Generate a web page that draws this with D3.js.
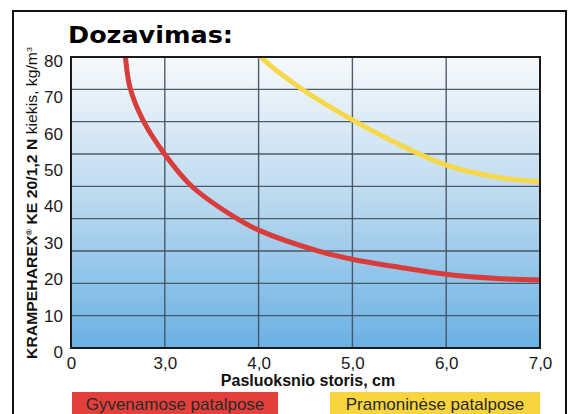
<!DOCTYPE html>
<html>
<head>
<meta charset="utf-8">
<script src="https://cdn.jsdelivr.net/npm/d3@7"></script>
<style>
  html, body { margin: 0; padding: 0; background: #fff; }
  svg { display: block; }
</style>
</head>
<body>
<svg id="chart" width="574" height="414"></svg>
<script>
// ---- data ----
const redX = [2.555, 2.58, 2.63, 2.77, 2.99, 3.29, 3.78, 4.0, 4.63, 5.0, 5.5, 6.0, 6.5, 7.0];
const redY = [88, 80, 71.5, 62.5, 53.6, 44.4, 35.4, 32.4, 26.7, 24.4, 22.2, 20.3, 19.2, 18.7];
const yellowX = [3.95, 4.02, 4.46, 5.0, 5.35, 6.0, 6.58, 7.0];
const yellowY = [82, 80, 71.2, 62.7, 57.9, 50.3, 46.8, 45.7];
const xTickValues = [2, 3, 4, 5, 6, 7];
const xTickLabels = ["0", "3,0", "4,0", "5,0", "6,0", "7,0"];
const yTickValues = [0, 10, 20, 30, 40, 50, 60, 70, 80];
const yGridValues = [8.89, 17.78, 26.67, 35.56, 44.44, 53.33, 62.22, 71.11];
const legendLabels = ["Gyvenamose patalpose", "Pramoninėse patalpose"];
const seriesColors = ["#d93d3b", "#f7d84a"];
const legendColors = ["#e3403b", "#f8d53f"];

// ---- layout ----
const svg = d3.select("#chart");
const L = 71, R = 540, T = 57, B = 348;
const x = d3.scaleLinear().domain([2, 7]).range([L, R]);
const y = d3.scaleLinear().domain([0, 80]).range([B, T]);

// outer frame
svg.append("path")
  .attr("d", `M13,420 L13,11 L566,11 L566,420`)
  .attr("fill", "none").attr("stroke", "#111").attr("stroke-width", 2);

// gradient
const defs = svg.append("defs");
const grad = defs.append("linearGradient").attr("id", "bg")
  .attr("x1", 0).attr("y1", 0).attr("x2", 0).attr("y2", 1);
grad.append("stop").attr("offset", "0%").attr("stop-color", "#f6f9fc");
grad.append("stop").attr("offset", "45%").attr("stop-color", "#c1dcf0");
grad.append("stop").attr("offset", "100%").attr("stop-color", "#6ab1e4");
defs.append("clipPath").attr("id", "clip")
  .append("rect").attr("x", L).attr("y", T).attr("width", R - L).attr("height", B - T);

svg.append("rect").attr("x", L).attr("y", T).attr("width", R - L).attr("height", B - T)
  .attr("fill", "url(#bg)");

// grid lines
const grid = svg.append("g").attr("stroke", "#3f4d5c").attr("stroke-width", 1.4).attr("stroke-opacity", 0.9);
grid.selectAll("line.h").data(yGridValues).join("line").attr("class", "h")
  .attr("x1", L).attr("x2", R).attr("y1", d => y(d)).attr("y2", d => y(d));
grid.selectAll("line.v").data(xTickValues.slice(1, -1)).join("line").attr("class", "v")
  .attr("x1", d => x(d)).attr("x2", d => x(d)).attr("y1", T).attr("y2", B);

// curves
const line = d3.line().x(d => x(d[0])).y(d => y(d[1])).curve(d3.curveCatmullRom.alpha(0.5));
const curves = svg.append("g").attr("clip-path", "url(#clip)");
curves.append("path").datum(yellowX.map((v, i) => [v, yellowY[i]]))
  .attr("d", line).attr("fill", "none").attr("stroke", seriesColors[1])
  .attr("stroke-width", 5).attr("stroke-linecap", "round");
curves.append("path").datum(redX.map((v, i) => [v, redY[i]]))
  .attr("d", line).attr("fill", "none").attr("stroke", seriesColors[0])
  .attr("stroke-width", 5).attr("stroke-linecap", "round");

// plot border
svg.append("rect").attr("x", L).attr("y", T).attr("width", R - L).attr("height", B - T)
  .attr("fill", "none").attr("stroke", "#1a1a1a").attr("stroke-width", 2);

// axes
const fontAx = "'Liberation Sans', Arial, sans-serif";
const yAxis = svg.append("g").attr("transform", `translate(${L},0)`)
  .call(d3.axisLeft(y).tickValues(yTickValues).tickSize(0).tickPadding(8).tickFormat(d3.format("d")));
yAxis.select(".domain").remove();
yAxis.selectAll("text").attr("font-family", fontAx).attr("font-size", 17)
  .attr("fill", "#1a1a1a").attr("dy", "0.67em").attr("transform", "translate(0,-2)");

const xAxis = svg.append("g").attr("transform", `translate(0,${B})`)
  .call(d3.axisBottom(x).tickValues(xTickValues).tickSize(0).tickPadding(9)
    .tickFormat((d, i) => xTickLabels[i]));
xAxis.select(".domain").remove();
xAxis.selectAll("text").attr("font-family", fontAx).attr("font-size", 17).attr("fill", "#1a1a1a");

// title
svg.append("text").attr("x", 68).attr("y", 43)
  .attr("font-family", "'DejaVu Sans', sans-serif").attr("font-weight", "bold")
  .attr("font-size", 23).attr("textLength", 165).attr("lengthAdjust", "spacingAndGlyphs")
  .attr("fill", "#000").text("Dozavimas:");

// x axis title
svg.append("text").attr("x", 308).attr("y", 386).attr("text-anchor", "middle")
  .attr("font-family", fontAx).attr("font-weight", "bold").attr("font-size", 16)
  .attr("fill", "#111").text("Pasluoksnio storis, cm");

// y axis title
const yt = svg.append("text").attr("transform", "translate(37,203) rotate(-90)")
  .attr("text-anchor", "middle").attr("font-family", fontAx).attr("font-size", 14)
  .attr("textLength", 312).attr("lengthAdjust", "spacingAndGlyphs")
  .attr("fill", "#111");
yt.append("tspan").attr("font-weight", "bold").text("KRAMPEHAREX");
yt.append("tspan").attr("font-weight", "bold").attr("font-size", 8).attr("dy", -5).text("®");
yt.append("tspan").attr("font-weight", "bold").attr("dy", 5).text(" KE 20/1,2 N ");
yt.append("tspan").text("kiekis, kg/m");
yt.append("tspan").attr("font-size", 8).attr("dy", -5).text("3");

// legend
const legendBoxes = [[72, 278], [330, 540]];
legendLabels.forEach((lab, i) => {
  const [x0, x1] = legendBoxes[i];
  svg.append("rect").attr("x", x0).attr("y", 392).attr("width", x1 - x0).attr("height", 24)
    .attr("fill", legendColors[i]);
  svg.append("text").attr("x", (x0 + x1) / 2).attr("y", 410).attr("text-anchor", "middle")
    .attr("font-family", fontAx).attr("font-size", 17).attr("fill", "#2a2a2a").text(lab);
});
</script>
</body>
</html>
